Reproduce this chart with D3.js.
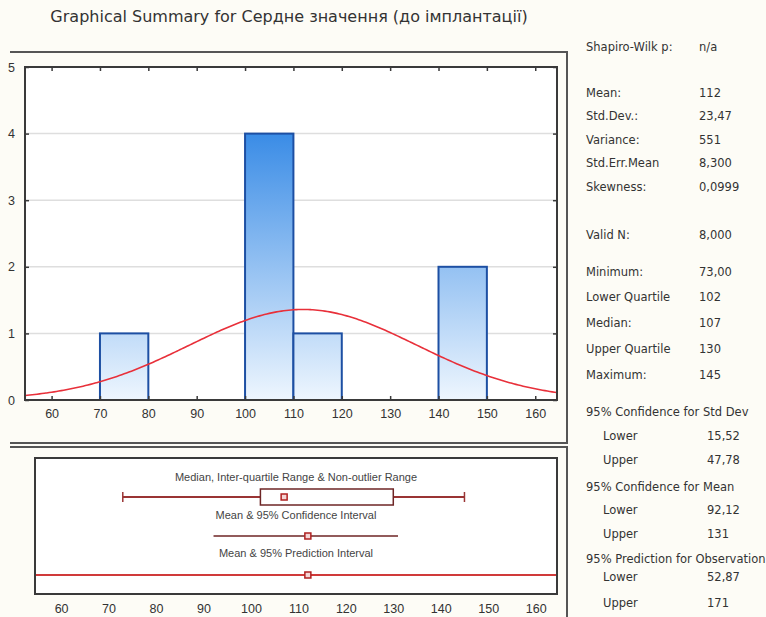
<!DOCTYPE html>
<html>
<head>
<meta charset="utf-8">
<script src="https://cdn.jsdelivr.net/npm/d3@7"></script>
<style>
  html, body { margin: 0; padding: 0; background: #fdfcf6; }
  svg { display: block; font-family: "Liberation Sans", Arial, sans-serif; }
</style>
</head>
<body>
<svg id="chart" width="766" height="617"></svg>
<script>
/* -----------------------------
   1. Data
------------------------------*/
const binStart = [70, 100, 110, 140];
const binEnd   = [80, 110, 120, 150];
const binCount = [1, 4, 1, 2];

const xTicks = [60, 70, 80, 90, 100, 110, 120, 130, 140, 150, 160];
const yTicks = [0, 1, 2, 3, 4, 5];

const sampleMean = 112;
const sampleSd = 23.47;
const sampleN = 8;
const binWidth = 10;

const boxStats = [73, 102, 107, 130, 145];   // min, lower q, median, upper q, max
const meanCi = [92.12, 131];
const obsPi = [52.87, 171];

const boxTitles = [
    "Median, Inter-quartile Range & Non-outlier Range",
    "Mean & 95% Confidence Interval",
    "Mean & 95% Prediction Interval"
];

const tableLabels = [
    "Shapiro-Wilk p:", "Mean:", "Std.Dev.:", "Variance:", "Std.Err.Mean", "Skewness:",
    "Valid N:", "Minimum:", "Lower Quartile", "Median:", "Upper Quartile", "Maximum:",
    "95% Confidence for Std Dev", "Lower", "Upper",
    "95% Confidence for Mean", "Lower", "Upper",
    "95% Prediction for Observation", "Lower", "Upper"
];
const tableValues = [
    "n/a", "112", "23,47", "551", "8,300", "0,0999",
    "8,000", "73,00", "102", "107", "130", "145",
    "", "15,52", "47,78",
    "", "92,12", "131",
    "", "52,87", "171"
];

/* -----------------------------
   2. Layout
------------------------------*/
const svg = d3.select('#chart');
const ink = '#3a3a3a';
const xDomain = [54.5, 164.5];

const hist = { left: 25, right: 557, top: 67, bottom: 400 };
const box  = { left: 35, right: 557, top: 458, bottom: 594 };

const tableRowY = [47, 93, 116, 140, 163, 187, 235, 272, 297, 323, 349, 375,
                   412, 436, 460, 487, 510, 534, 559, 577, 603];

const xHist = d3.scaleLinear().domain(xDomain).range([hist.left, hist.right]);
const yHist = d3.scaleLinear().domain([0, 5]).range([hist.bottom, hist.top]);
const xBox  = d3.scaleLinear().domain(xDomain).range([box.left, box.right]);

// bar gradient runs over the whole value range, so short bars stay pale
const defs = svg.append('defs');
const grad = defs.append('linearGradient')
    .attr('id', 'barGrad')
    .attr('gradientUnits', 'userSpaceOnUse')
    .attr('x1', 0).attr('x2', 0)
    .attr('y1', yHist(0)).attr('y2', yHist(4));
grad.append('stop').attr('offset', 0).attr('stop-color', '#eef6fe');
grad.append('stop').attr('offset', 1).attr('stop-color', '#3a8ce6');

defs.append('clipPath').attr('id', 'boxClip')
    .append('rect')
    .attr('x', box.left).attr('y', box.top)
    .attr('width', box.right - box.left).attr('height', box.bottom - box.top);

/* -----------------------------
   3. Title + panel frames
------------------------------*/
svg.append('text')
    .attr('x', 289).attr('y', 22)
    .attr('text-anchor', 'middle')
    .attr('font-family', '"DejaVu Sans", sans-serif')
    .attr('font-size', 16)
    .attr('fill', '#333')
    .text('Graphical Summary for Сердне значення (до імплантації)');

const frame = svg.append('g').attr('stroke', '#555').attr('stroke-width', 2).attr('fill', 'none');
frame.append('path').attr('d', 'M10,52H567V443H10');
frame.append('path').attr('d', 'M10,447H567V617');

/* -----------------------------
   4. Histogram
------------------------------*/
const gH = svg.append('g');

gH.append('rect')
    .attr('x', hist.left).attr('y', hist.top)
    .attr('width', hist.right - hist.left).attr('height', hist.bottom - hist.top)
    .attr('fill', '#fff');

gH.selectAll('line.grid')
    .data(yTicks.filter(d => d > 0 && d < 5))
    .join('line')
    .attr('class', 'grid')
    .attr('x1', hist.left).attr('x2', hist.right)
    .attr('y1', d => yHist(d)).attr('y2', d => yHist(d))
    .attr('stroke', '#dedede').attr('stroke-width', 1.5);

gH.selectAll('rect.bar')
    .data(binCount)
    .join('rect')
    .attr('class', 'bar')
    .attr('x', (d, i) => xHist(binStart[i]))
    .attr('width', (d, i) => xHist(binEnd[i]) - xHist(binStart[i]))
    .attr('y', d => yHist(d))
    .attr('height', d => yHist(0) - yHist(d))
    .attr('fill', 'url(#barGrad)')
    .attr('stroke', '#1d4fa3')
    .attr('stroke-width', 2);

// fitted normal density, scaled to counts per bin
const curveX = d3.range(xDomain[0], xDomain[1] + 0.01, 0.5);
const density = x => sampleN * binWidth * Math.exp(-0.5 * ((x - sampleMean) / sampleSd) ** 2) / (sampleSd * Math.sqrt(2 * Math.PI));
gH.append('path')
    .datum(curveX)
    .attr('d', d3.line().x(d => xHist(d)).y(d => yHist(density(d))).curve(d3.curveBasis))
    .attr('fill', 'none')
    .attr('stroke', '#e8303a')
    .attr('stroke-width', 1.6);

gH.append('rect')
    .attr('x', hist.left).attr('y', hist.top)
    .attr('width', hist.right - hist.left).attr('height', hist.bottom - hist.top)
    .attr('fill', 'none').attr('stroke', ink).attr('stroke-width', 2);

// inward ticks on all four sides
gH.append('g').attr('transform', `translate(0,${hist.bottom})`)
    .call(d3.axisBottom(xHist).tickValues(xTicks).tickSizeInner(-4).tickSizeOuter(0).tickPadding(9))
    .call(g => g.select('.domain').remove());
gH.append('g').attr('transform', `translate(0,${hist.top})`)
    .call(d3.axisTop(xHist).tickValues(xTicks).tickSizeInner(-4).tickSizeOuter(0).tickFormat(''))
    .call(g => g.select('.domain').remove());
gH.append('g').attr('transform', `translate(${hist.left},0)`)
    .call(d3.axisLeft(yHist).tickValues(yTicks).tickSizeInner(-4).tickSizeOuter(0).tickPadding(10).tickFormat(d3.format('d')))
    .call(g => g.select('.domain').remove());
gH.append('g').attr('transform', `translate(${hist.right},0)`)
    .call(d3.axisRight(yHist).tickValues(yTicks).tickSizeInner(-4).tickSizeOuter(0).tickFormat(''))
    .call(g => g.select('.domain').remove());

gH.selectAll('.tick line').attr('stroke', ink).attr('stroke-width', 1.5);
gH.selectAll('.tick text').attr('font-size', 12.5).attr('fill', '#333')
    .attr('font-family', '"Liberation Sans", Arial, sans-serif');

/* -----------------------------
   5. Box / interval panel
------------------------------*/
const gB = svg.append('g');

gB.append('rect')
    .attr('x', box.left).attr('y', box.top)
    .attr('width', box.right - box.left).attr('height', box.bottom - box.top)
    .attr('fill', '#fff');

const boxMid = (box.left + box.right) / 2;
gB.selectAll('text.cap')
    .data(boxTitles)
    .join('text')
    .attr('class', 'cap')
    .attr('x', boxMid)
    .attr('y', (d, i) => [481, 519, 557][i])
    .attr('text-anchor', 'middle')
    .attr('font-size', 11)
    .attr('fill', '#444')
    .text(d => d);

const rows = gB.append('g').attr('clip-path', 'url(#boxClip)');
const yWhisk = 497, yCi = 536, yPi = 575;

// whiskers + box
rows.append('line')
    .attr('x1', xBox(boxStats[0])).attr('x2', xBox(boxStats[4]))
    .attr('y1', yWhisk).attr('y2', yWhisk)
    .attr('stroke', '#9a3434').attr('stroke-width', 2);
rows.selectAll('line.capW')
    .data([boxStats[0], boxStats[4]])
    .join('line')
    .attr('class', 'capW')
    .attr('x1', d => xBox(d)).attr('x2', d => xBox(d))
    .attr('y1', yWhisk - 5).attr('y2', yWhisk + 5)
    .attr('stroke', '#9a3434').attr('stroke-width', 1.5);
rows.append('rect')
    .attr('x', xBox(boxStats[1])).attr('width', xBox(boxStats[3]) - xBox(boxStats[1]))
    .attr('y', yWhisk - 8).attr('height', 16)
    .attr('fill', '#fff').attr('stroke', '#6e2626').attr('stroke-width', 1.5);

// confidence interval of mean
rows.append('line')
    .attr('x1', xBox(meanCi[0])).attr('x2', xBox(meanCi[1]))
    .attr('y1', yCi).attr('y2', yCi)
    .attr('stroke', '#6e2424').attr('stroke-width', 1.5);

// prediction interval
rows.append('line')
    .attr('x1', xBox(obsPi[0])).attr('x2', xBox(obsPi[1]))
    .attr('y1', yPi).attr('y2', yPi)
    .attr('stroke', '#d03a3a').attr('stroke-width', 2);

// point markers
rows.selectAll('rect.pt')
    .data([[boxStats[2], yWhisk], [sampleMean, yCi], [sampleMean, yPi]])
    .join('rect')
    .attr('class', 'pt')
    .attr('x', d => xBox(d[0]) - 3).attr('y', d => d[1] - 3)
    .attr('width', 6).attr('height', 6)
    .attr('fill', '#f4d6d6').attr('stroke', '#b02222').attr('stroke-width', 1.5);

gB.append('rect')
    .attr('x', box.left).attr('y', box.top)
    .attr('width', box.right - box.left).attr('height', box.bottom - box.top)
    .attr('fill', 'none').attr('stroke', ink).attr('stroke-width', 2);

gB.append('g').attr('transform', `translate(0,${box.bottom})`)
    .call(d3.axisBottom(xBox).tickValues(xTicks).tickSize(0).tickPadding(10))
    .call(g => g.select('.domain').remove())
    .call(g => g.selectAll('text').attr('font-size', 12.5).attr('fill', '#333')
        .attr('font-family', '"Liberation Sans", Arial, sans-serif'));

/* -----------------------------
   6. Stats table
------------------------------*/
const gT = svg.append('g')
    .attr('font-family', '"DejaVu Sans", sans-serif')
    .attr('font-size', 11.5)
    .attr('fill', '#333');

const isSub = d => d === 'Lower' || d === 'Upper';

gT.selectAll('text.lbl')
    .data(tableLabels)
    .join('text')
    .attr('class', 'lbl')
    .attr('x', d => isSub(d) ? 603 : 586)
    .attr('y', (d, i) => tableRowY[i] + 4)
    .text(d => d);

gT.selectAll('text.val')
    .data(tableValues)
    .join('text')
    .attr('class', 'val')
    .attr('x', (d, i) => isSub(tableLabels[i]) ? 707 : 699)
    .attr('y', (d, i) => tableRowY[i] + 4)
    .text(d => d);
</script>
</body>
</html>
